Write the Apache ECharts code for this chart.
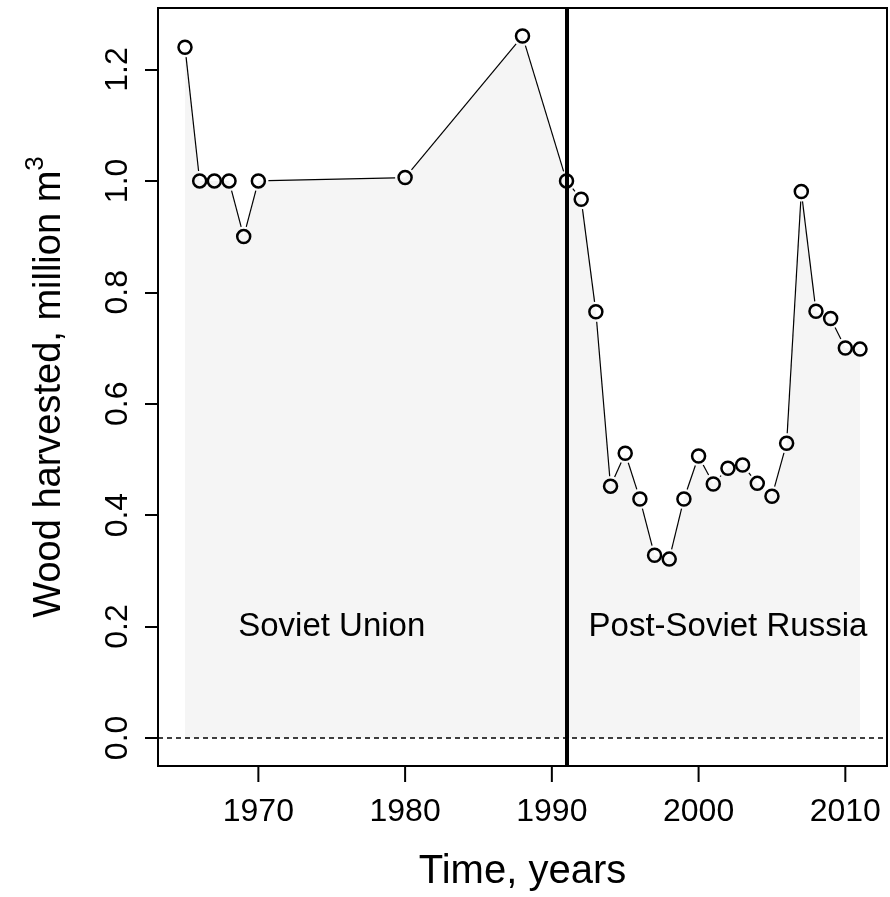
<!DOCTYPE html>
<html>
<head>
<meta charset="utf-8">
<script src="https://cdn.jsdelivr.net/npm/echarts@6/dist/echarts.min.js"></script>
<style>
html,body{margin:0;padding:0;background:#fff;}
#chart{width:890px;height:897px;}
</style>
</head>
<body>
<div id="chart"></div>
<script>
// ---- data ----
var years = [1965,1966,1967,1968,1969,1970,1980,1988,1991,1992,1993,1994,1995,1996,1997,1998,1999,2000,2001,2002,2003,2004,2005,2006,2007,2008,2009,2010,2011];
var harvest = [1.24,1.0,1.0,1.0,0.9,1.0,1.006,1.26,1.0,0.967,0.765,0.452,0.511,0.429,0.328,0.321,0.429,0.506,0.456,0.484,0.49,0.457,0.434,0.529,0.981,0.766,0.753,0.70,0.698];
var xTicks = [1970,1980,1990,2000,2010];
var yTicks = [0,0.2,0.4,0.6,0.8,1.0,1.2];
var periodNames = ['Soviet Union','Post-Soviet Russia'];
var periodYears = [1975,2002];
var periodLevel = [0.2,0.2];
var breakYear = 1991;

var FONT = 'Liberation Sans, Arial, Helvetica, sans-serif';
var pts = years.map(function(y,i){return [y,harvest[i]];});
var xSpan = years[years.length-1]-years[0];
var xMin = years[0]-0.04*xSpan, xMax = years[years.length-1]+0.04*xSpan;
var yHi = Math.max.apply(null,harvest);
var yMin = -0.04*yHi, yMax = yHi*1.04;

var chart = echarts.init(document.getElementById('chart'), null, {renderer:'canvas'});
var GAP = 10;
chart.setOption({
  animation:false,
  backgroundColor:'#fff',
  grid:{left:158,right:3,top:8,bottom:130,show:true,borderColor:'#000',borderWidth:2,backgroundColor:'transparent'},
  xAxis:{
    type:'value',min:xMin,max:xMax,position:'bottom',
    axisLine:{show:true,onZero:false,lineStyle:{color:'#000',width:2}},
    splitLine:{show:false},
    axisTick:{show:false},
    axisLabel:{color:'#000',fontSize:32,fontFamily:FONT,margin:30,customValues:xTicks,formatter:function(v){return String(v);}},
    name:'Time, years',nameLocation:'middle',nameGap:86,
    nameTextStyle:{color:'#000',fontSize:40,fontFamily:FONT}
  },
  yAxis:{
    type:'value',min:yMin,max:yMax,position:'left',
    axisLine:{show:true,onZero:false,lineStyle:{color:'#000',width:2}},
    splitLine:{show:false},
    axisTick:{show:true,inside:false,length:13,lineStyle:{color:'#000',width:2},customValues:yTicks},
    axisLabel:{color:'#000',fontSize:32,fontFamily:FONT,margin:24,rotate:90,customValues:yTicks,formatter:function(v){return v.toFixed(1);}},
    name:'{a|Wood harvested, million m}{s|3}',nameLocation:'middle',nameGap:89,nameRotate:90,
    nameTextStyle:{color:'#000',fontFamily:FONT,
      rich:{a:{fontSize:38,fontFamily:FONT,color:'#000',lineHeight:46,verticalAlign:'bottom'},
            s:{fontSize:26,fontFamily:FONT,color:'#000',verticalAlign:'top',lineHeight:46}}}
  },
  series:[
    {type:'line',data:pts,showSymbol:false,symbol:'none',lineStyle:{width:0,opacity:0},
     areaStyle:{color:'#f5f5f5',opacity:1,origin:'auto'},z:1,silent:true},
    {type:'custom',data:pts,z:3,silent:true,
     renderItem:function(params,api){
       var i=params.dataIndex;
       if(i>=pts.length-1) return null;
       var p0=api.coord(pts[i]), p1=api.coord(pts[i+1]);
       var dx=p1[0]-p0[0], dy=p1[1]-p0[1], L=Math.sqrt(dx*dx+dy*dy);
       if(L<=2*GAP+1) return null;
       var ux=dx/L, uy=dy/L;
       return {type:'line',shape:{x1:p0[0]+ux*GAP,y1:p0[1]+uy*GAP,x2:p1[0]-ux*GAP,y2:p1[1]-uy*GAP},
               style:{stroke:'#000',lineWidth:1.2}};
     }},
    {type:'scatter',data:pts,symbol:'circle',symbolSize:13,z:4,silent:true,
     itemStyle:{color:'rgba(0,0,0,0)',borderColor:'#000',borderWidth:2.5,opacity:1}},
    {type:'custom',data:periodYears.map(function(y,i){return [y,periodLevel[i]];}),z:5,silent:true,
     renderItem:function(params,api){
       var p=api.coord([api.value(0),api.value(1)]);
       return {type:'text',x:p[0],y:p[1],
               style:{text:periodNames[params.dataIndex],fill:'#000',fontSize:33,fontFamily:FONT,align:'center',verticalAlign:'middle'}};
     }},
    {type:'line',data:[],z:6,silent:true,
     markLine:{silent:true,symbol:['none','none'],label:{show:false},animation:false,
       data:[
         {xAxis:breakYear,lineStyle:{color:'#000',width:4,type:'solid',opacity:1}},
         {yAxis:0,lineStyle:{color:'#000',width:1.5,type:[5,4],opacity:1}}
       ]}}
  ]
});
// x-axis tick marks (outward), positioned through the axis scale
var tickGraphics = xTicks.map(function(t){
  var p = chart.convertToPixel({gridIndex:0},[t,yMin]);
  return {type:'line',z:100,silent:true,shape:{x1:p[0],y1:p[1],x2:p[0],y2:p[1]+16},style:{stroke:'#000',lineWidth:2}};
});
chart.setOption({graphic:tickGraphics});
</script>
</body>
</html>
